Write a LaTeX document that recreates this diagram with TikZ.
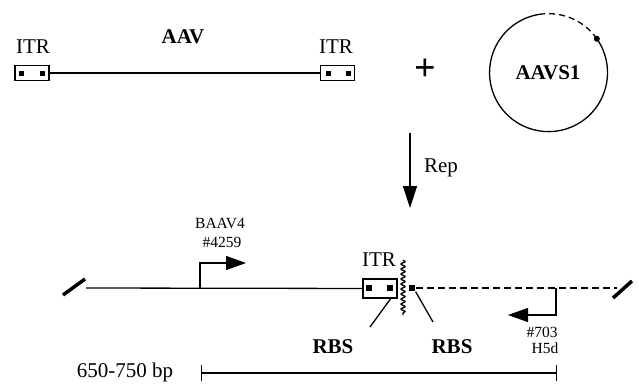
\documentclass[tikz,border=0pt]{standalone}
\usepackage{fontspec}
\setmainfont{Liberation Serif}
\usetikzlibrary{arrows.meta,decorations.pathmorphing,calc}
\begin{document}
\begin{tikzpicture}[x=1pt,y=-1pt,
  every path/.style={line width=1.3pt},
  itrbox/.style={draw, line width=1.3pt, minimum width=34pt, minimum height=15pt, inner sep=0pt},
  dotsq/.style={fill, minimum size=5pt, inner sep=0pt},
  lbl/.style={font=\fontsize{21}{23}\selectfont, inner sep=1pt},
  blbl/.style={font=\bfseries\fontsize{21}{23}\selectfont, inner sep=1pt},
  slbl/.style={font=\fontsize{15.5}{17}\selectfont, inner sep=1pt},
  bigtri/.style={-{Triangle[length=20pt,width=14pt]}},
  slash/.style={line width=3.5pt}
]
\useasboundingbox (0,0) rectangle (639,386);

% --- AAV genome (top left)
\node[itrbox] (itrL) at (32,73) {};
\node[dotsq] (dL1) at (21,73) {};
\node[dotsq] (dL2) at (42,73) {};
\node[itrbox] (itrR) at (337.5,73) {};
\node[dotsq] (dR1) at (328,73) {};
\node[dotsq] (dR2) at (348,73) {};
\draw (itrL) -- (itrR);
\node[lbl] (itrLt) at (33,47) {ITR};
\node[lbl] (itrRt) at (336,47) {ITR};
\node[blbl] (aav) at (183,37) {AAV};

% --- plus
\node[font=\bfseries\fontsize{38}{40}\selectfont, inner sep=0pt] (plus) at (425,70) {+};

% --- AAVS1 circle
\node[circle, minimum size=118pt, inner sep=0pt, blbl] (aavs) at (548,73) {AAVS1};
\draw (aavs.35) arc[start angle=35, end angle=-265, radius=59pt];
\draw[dashed, dash pattern=on 6pt off 4pt] (aavs.35) arc[start angle=35, end angle=95, radius=59pt];
\node[circle, fill, minimum size=6pt, inner sep=0pt] (site) at (aavs.35) {};

% --- Rep arrow
\coordinate (repS) at (410,133);
\coordinate (repE) at (410,208);
\draw[-{Triangle[length=22pt,width=14pt]}] (repS) -- (repE);
\node[lbl] (rep) at (441,168) {Rep};

% --- integrated locus
\coordinate (Lend) at (86,288);
\coordinate (Rend) at (617,288);
\draw[slash] (63,295) -- (85,279);
\draw[slash] (613,298) -- (632,281);
\node[itrbox, minimum height=19pt] (itrB) at (380,288.5) {};
\node[dotsq, minimum size=6pt] (dB1) at (369,288) {};
\node[dotsq, minimum size=6pt] (dB2) at (390,288) {};
\node[dotsq, minimum size=6pt] (sq) at (412,288) {};
\draw (Lend) -- (itrB);
\draw[dash pattern=on 7pt off 4pt] (sq) -- (Rend);
\draw[decorate, decoration={snake, amplitude=2pt, segment length=5pt}] (403,260) -- (403,315);
\node[lbl] (itrBt) at (379,260) {ITR};

% --- RBS
\node[blbl] (rbsL) at (333,347) {RBS};
\node[blbl] (rbsR) at (452,347) {RBS};
\coordinate (rbsLe) at (370,327);
\coordinate (rbsRe) at (433,322);
\draw ($(itrB.south east)+(-7,0)$) -- (rbsLe);
\draw (sq.south east) -- (rbsRe);

% --- primers
\coordinate (p1) at (200,288);
\coordinate (p1e) at (246,263);
\draw[bigtri] (p1) |- (p1e);
\node[slbl] (baav) at (220,223) {BAAV4};
\node[slbl] (baavn) at (222,242) {\#4259};

\coordinate (p2) at (556,288);
\coordinate (p2e) at (508,315);
\draw[bigtri] (p2) |- (p2e);
\node[slbl] (h5n) at (542,332) {\#703};
\node[slbl] (h5d) at (545,348) {H5d};

% --- scale bar
\coordinate (bL) at (201,373);
\coordinate (bR) at (557,373);
\draw[{Bar[width=16pt]}-{Bar[width=16pt]}] (bL) -- (bR);
\node[lbl] (bp) at (125,372) {650-750 bp};
\end{tikzpicture}
\end{document}
